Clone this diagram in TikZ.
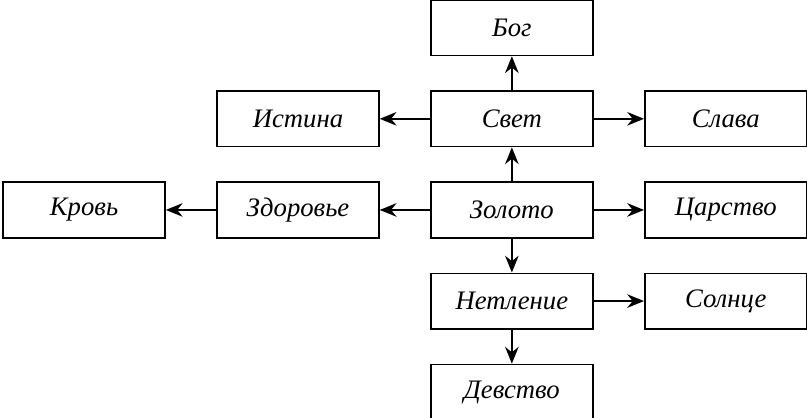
\documentclass[tikz,border=0pt]{standalone}
\usepackage{fontspec}
\setmainfont{Liberation Serif}
\usetikzlibrary{arrows.meta, positioning}

\begin{document}
\begin{tikzpicture}[
  font=\fontsize{19}{21}\selectfont\itshape,
  >={Stealth[length=4.2mm, width=3.4mm]},
  node distance=8.5mm and 12.6mm,
  box/.style={draw, line width=1.1pt, minimum width=40.5mm, minimum height=13.9mm,
              inner sep=0pt},
  arr/.style={->, line width=1.1pt},
  ]
\useasboundingbox (-12.8,-5.2) rectangle (7.38,5.25);
\node[box] (gold) at (0,0) {Золото};
\node[box, above=of gold] (light) {Свет};
\node[box, above=of light] (god) {Бог};
\node[box, left=of light] (truth) {Истина};
\node[box, right=of light] (glory) {Слава};
\node[box, left=of gold] (health) {Здоровье};
\node[box, left=of health] (blood) {Кровь};
\node[box, right=of gold] (kingdom) {Царство};
\node[box, below=of gold] (incorr) {Нетление};
\node[box, right=of incorr] (sun) {Солнце};
\node[box, below=of incorr] (virgin) {Девство};

\draw[arr] (light) -- (god);
\draw[arr] (light) -- (truth);
\draw[arr] (light) -- (glory);
\draw[arr] (gold) -- (light);
\draw[arr] (gold) -- (health);
\draw[arr] (health) -- (blood);
\draw[arr] (gold) -- (kingdom);
\draw[arr] (gold) -- (incorr);
\draw[arr] (incorr) -- (sun);
\draw[arr] (incorr) -- (virgin);
\end{tikzpicture}
\end{document}
